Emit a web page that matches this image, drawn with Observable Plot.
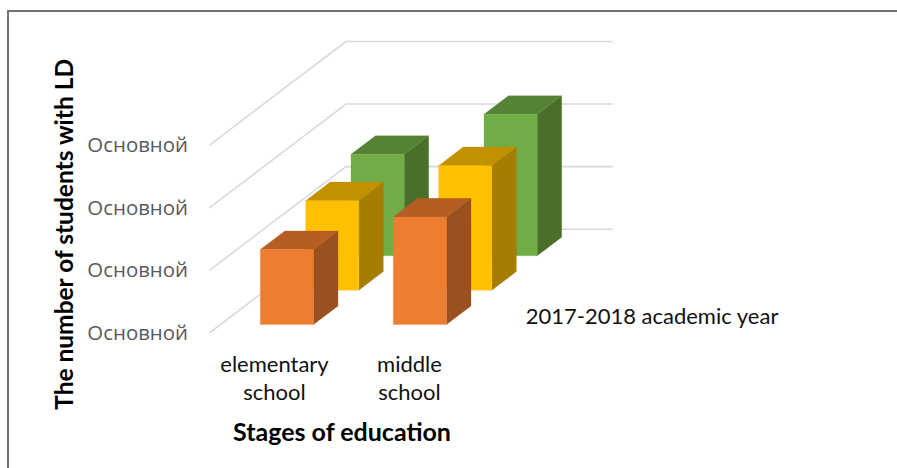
<!DOCTYPE html>
<html>
<head>
<meta charset="utf-8">
<script src="https://cdn.jsdelivr.net/npm/d3@7"></script>
<script src="https://cdn.jsdelivr.net/npm/@observablehq/plot@0.6"></script>
<style>
html,body{margin:0;padding:0;background:#fff;overflow:hidden}
#wrap{position:relative;width:897px;height:468px}
#border{position:absolute;left:7px;top:10px;right:0;bottom:0;border-top:2px solid #757070;border-left:2px solid #757070;box-sizing:border-box}
svg{position:absolute;left:0;top:0}
</style>
</head>
<body>
<div id="wrap"><div id="border"></div></div>
<script>
const categories = ["elementary\nschool", "middle\nschool"];
const seriesNames = ["2017-2018 academic year", "", ""];
const tickValues = [0, 1, 2, 3];
const tickLabels = ["Основной", "Основной", "Основной", "Основной"];
const orangeValues = [1.2, 1.72];
const yellowValues = [1.43, 1.99];
const greenValues = [1.62, 2.26];
const xTitle = "Stages of education";
const yTitle = "The number of students with LD";

const seriesValues = [orangeValues, yellowValues, greenValues];
const faceColors = [
  {front: "#ED7D31", top: "#B55D23", side: "#9A501F"},
  {front: "#FFC000", top: "#C29100", side: "#A57D00"},
  {front: "#70AD47", top: "#568236", side: "#4A6F2B"}
];

// oblique projection: u along categories, w into depth (0..1), v value
const KX = 136 / 133, KY = 103 / 62.4;
const P = (u, w, v) => ({x: u + KX * w, y: v + KY * w});

const barW = 0.4, barD = 0.18;
const marks = [];

// walls and floor gridlines
for (const t of tickValues) {
  marks.push(Plot.line([P(0, 0, t), P(0, 1, t), P(categories.length, 1, t)],
    {x: "x", y: "y", stroke: "#d9d9d9", strokeWidth: 1.6}));
}

// bars, painted from back to front
for (let s = seriesValues.length - 1; s >= 0; s--) {
  seriesValues[s].forEach((v, c) => {
    const u0 = c + 0.5 - barW / 2, u1 = c + 0.5 + barW / 2;
    const w0 = (s + 0.5) / seriesValues.length - barD / 2, w1 = w0 + barD;
    const col = faceColors[s];
    const faces = [
      [col.side, [P(u1, w0, 0), P(u1, w1, 0), P(u1, w1, v), P(u1, w0, v), P(u1, w0, 0)]],
      [col.top, [P(u0, w0, v), P(u1, w0, v), P(u1, w1, v), P(u0, w1, v), P(u0, w0, v)]],
      [col.front, [P(u0, w0, 0), P(u1, w0, 0), P(u1, w0, v), P(u0, w0, v), P(u0, w0, 0)]]
    ];
    for (const [color, pts] of faces) {
      marks.push(Plot.line(pts, {x: "x", y: "y", fill: color, stroke: color, strokeWidth: 0.25}));
    }
  });
}

const font = "Lato, 'Noto Sans', sans-serif";
// value tick labels
marks.push(Plot.text(tickValues.map((t, i) => ({...P(0, 0, t), label: tickLabels[i]})), {
  x: "x", y: "y", text: "label", textAnchor: "end", dx: -22, dy: 1, fill: "#595959",
  fontSize: 20.4, fontFamily: "'Open Sans', sans-serif", fontWeight: 400
}));
// category labels
const categoryShift = [-2, 0];
categories.forEach((c, i) => {
  marks.push(Plot.text([{...P(i + 0.5, 0, 0), label: c}], {
    x: "x", y: "y", text: "label", textAnchor: "middle", lineAnchor: "top", dy: 19.5, dx: categoryShift[i],
    lineHeight: 1.27, fill: "#111", fontSize: 22, fontFamily: font
  }));
});
// depth axis label
marks.push(Plot.text([{...P(categories.length, 0.5 / 3, 0), label: seriesNames[0]}], {
  x: "x", y: "y", text: "label", textAnchor: "start", dx: 27, dy: 1.5, fill: "#111",
  fontSize: 22, fontFamily: font
}));
// axis titles
marks.push(Plot.text([{...P(1, 0, 0), label: xTitle}], {
  x: "x", y: "y", text: "label", textAnchor: "middle", dx: -1, dy: 100, fill: "#000",
  fontSize: 25, fontWeight: 700, fontFamily: font
}));
marks.push(Plot.text([{...P(0, 0, 1.2), label: yTitle}], {
  x: "x", y: "y", text: "label", rotate: -90, textAnchor: "middle", dx: -145, dy: -23, fill: "#000",
  fontSize: 24.5, fontWeight: 700, fontFamily: font
}));

const chart = Plot.plot({
  width: 897, height: 468,
  marginLeft: 209.5, marginRight: 285.5, marginTop: 41, marginBottom: 136,
  x: {axis: null, domain: [0, categories.length + KX]},
  y: {axis: null, domain: [0, 3 + KY]},
  style: {background: "transparent", overflow: "visible"},
  marks
});
document.getElementById("wrap").appendChild(chart);
</script>
</body>
</html>
